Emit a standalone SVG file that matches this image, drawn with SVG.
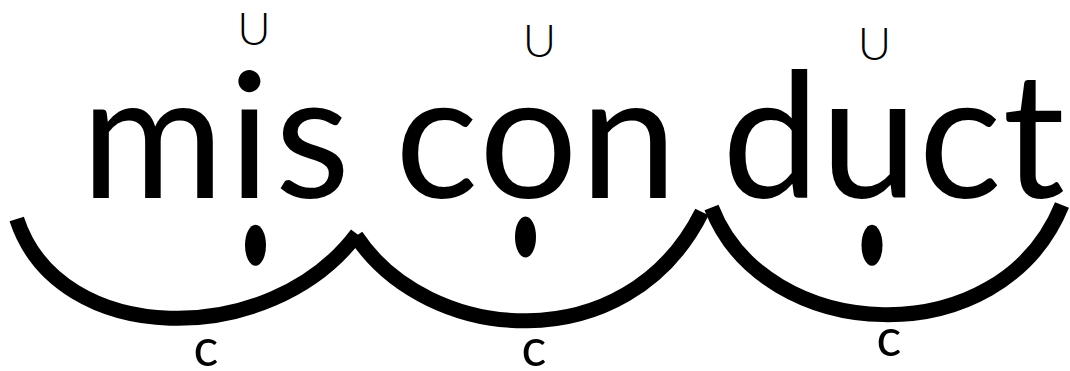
<svg xmlns="http://www.w3.org/2000/svg" width="1070" height="371" viewBox="0 0 1070 371">
<style>
.word{font-family:Lato,"Liberation Sans",sans-serif;font-size:174px;fill:#000}
.u{font-family:Lato,"Liberation Sans",sans-serif;font-size:46px;font-weight:300;fill:#000;text-anchor:middle}
.c{font-family:Lato,"Liberation Sans",sans-serif;font-size:52px;fill:#000;text-anchor:middle}
.arc{fill:none;stroke:#000;stroke-width:15;stroke-linecap:butt}
.dot{fill:#000}
</style>
<rect width="1070" height="371" fill="#fff"/>
<g id="connectors">
<path class="arc" d="M16.7,219 C58.3,347.4 270,350 357,234"/>
<path class="arc" d="M356,236 C427.5,343.9 626.5,362.3 702,212"/>
<path class="arc" d="M711.5,207.5 C764.4,344.2 1000,357.3 1062,205"/>
</g>
<g id="syllable-mis">
<text class="word" x="81" y="198" textLength="269">mis</text>
<text class="u" x="254" y="45">U</text>
<ellipse class="dot" cx="255.5" cy="245.3" rx="10.5" ry="20.5"/>
<text class="c" x="206" y="365.5">c</text>
</g>
<g id="syllable-con">
<text class="word" x="395" y="198" textLength="282">con</text>
<text class="u" x="539.5" y="57">U</text>
<ellipse class="dot" cx="525.5" cy="237" rx="10.5" ry="20.5"/>
<text class="c" x="534" y="365.5">c</text>
</g>
<g id="syllable-duct">
<text class="word" x="722" y="198" textLength="343">duct</text>
<text class="u" x="874.5" y="60">U</text>
<ellipse class="dot" cx="872" cy="245.3" rx="10.5" ry="20.5"/>
<text class="c" x="889" y="356">c</text>
</g>
</svg>
